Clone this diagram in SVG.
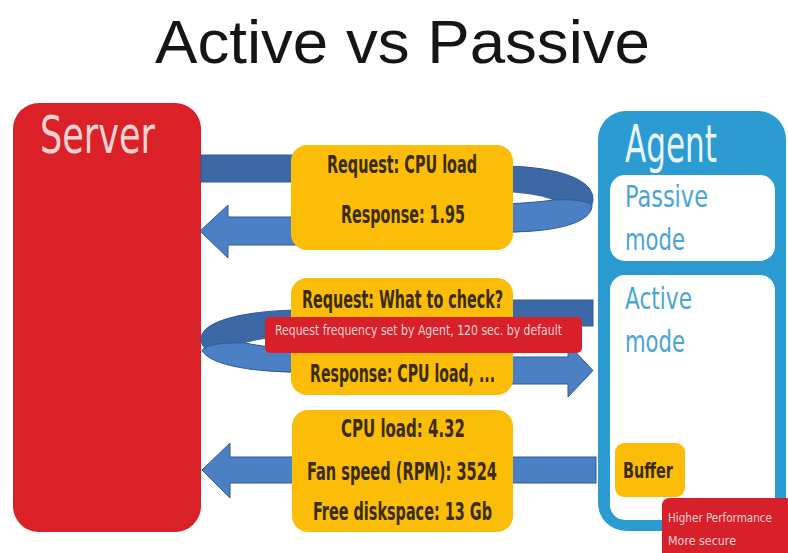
<svg xmlns="http://www.w3.org/2000/svg" width="788" height="553" viewBox="0 0 788 553">
  <style>
    .narrow { font-family: "Liberation Sans Narrow", "DejaVu Sans Condensed", "Liberation Sans", sans-serif; }
    .lbl { font-size: 24px; fill: #3a2c08; font-weight: bold; }
    .box { fill: #fbbd08; }
    .back { fill: #3d68a6; stroke: #2f5a94; stroke-width: 1; }
    .front { fill: #4b80c4; stroke: #2f5a94; stroke-width: 1; }
    .mode { font-size: 31px; fill: #4ba4d6; }
    .note { fill: #d7202a; }
    .noteText { fill: #f6d4d4; }
  </style>

  <rect width="788" height="553" fill="#ffffff"/>

  <!-- title -->
  <text x="155" y="63" font-family="Liberation Sans, Arial, sans-serif" font-size="62" fill="#151515" textLength="495" lengthAdjust="spacingAndGlyphs">Active vs Passive</text>

  <!-- server -->
  <g id="server">
    <rect x="13" y="103" width="188" height="429" rx="26" fill="#d92127"/>
    <text class="narrow" x="40" y="153" font-size="52" fill="#f4d2d2" textLength="115" lengthAdjust="spacingAndGlyphs">Server</text>
  </g>

  <!-- agent -->
  <g id="agent">
    <rect x="598" y="111" width="188" height="420" rx="28" fill="#2b9bd1"/>
    <text class="narrow" x="625" y="162" font-size="52" fill="#eaf5fb" textLength="92" lengthAdjust="spacingAndGlyphs">Agent</text>
    <g id="passive-mode">
      <rect x="610" y="175" width="165" height="86" rx="15" fill="#ffffff"/>
      <text class="narrow mode" x="625" y="207" textLength="83" lengthAdjust="spacingAndGlyphs">Passive</text>
      <text class="narrow mode" x="625" y="250" textLength="60" lengthAdjust="spacingAndGlyphs">mode</text>
    </g>
    <g id="active-mode">
      <rect x="610" y="275" width="165" height="245" rx="15" fill="#ffffff"/>
      <text class="narrow mode" x="625" y="309" textLength="67" lengthAdjust="spacingAndGlyphs">Active</text>
      <text class="narrow mode" x="625" y="352" textLength="60" lengthAdjust="spacingAndGlyphs">mode</text>
    </g>
  </g>

  <!-- connectors -->
  <g id="connectors">
    <!-- passive: request loop -->
    <rect class="back" x="201" y="155" width="100" height="27"/>
    <path class="back" d="M505,166 C560,167 593,180 593,199 C593,218 560,232 505,232 Z"/>
    <path d="M505,192 C528,193 543,196 553,200 C540,202 525,203 505,204 Z" fill="#ffffff"/>
    <path class="front" d="M505,204 C525,203 540,202 553,200 C575,199 590,201 592,206 C591,222 560,232 505,232 Z"/>
    <polygon class="front" points="300,217 228,217 228,205 200,231 228,258 228,245 300,245"/>

    <!-- active: request loop -->
    <rect class="back" x="505" y="300" width="88" height="26"/>
    <path class="back" d="M298,310 C240,311 201,322 201,339 C201,356 240,372 298,372 Z"/>
    <path d="M298,336 C272,337 256,340 245,343 C260,346 276,348 298,349 Z" fill="#ffffff"/>
    <path class="front" d="M298,349 C276,348 260,346 245,343 C224,342 206,345 202,350 C207,363 245,372 298,372 Z"/>
    <polygon class="front" points="505,357 568,357 568,344 593,370.5 568,397 568,384 505,384"/>

    <!-- active: buffered data -->
    <rect class="front" x="505" y="457" width="91" height="26"/>
    <polygon class="front" points="300,457 230,457 230,443 202,470 230,498 230,483 300,483"/>
  </g>

  <!-- message boxes -->
  <g id="passive-messages">
    <rect class="box" x="291" y="145" width="222" height="105" rx="16"/>
    <text class="narrow lbl" x="327" y="173" textLength="150" lengthAdjust="spacingAndGlyphs">Request: CPU load</text>
    <text class="narrow lbl" x="341" y="223" textLength="124" lengthAdjust="spacingAndGlyphs">Response: 1.95</text>
  </g>

  <g id="active-messages">
    <rect class="box" x="291" y="278" width="222" height="117" rx="16"/>
    <text class="narrow lbl" x="302" y="308" textLength="201" lengthAdjust="spacingAndGlyphs">Request: What to check?</text>
    <text class="narrow lbl" x="310" y="382" textLength="185" lengthAdjust="spacingAndGlyphs">Response: CPU load, ...</text>
  </g>

  <g id="frequency-note">
    <rect class="note" x="265" y="317" width="317" height="36" rx="5"/>
    <text class="narrow noteText" x="275" y="335" font-size="14" textLength="287" lengthAdjust="spacingAndGlyphs">Request frequency set by Agent, 120 sec. by default</text>
  </g>

  <g id="active-data">
    <rect class="box" x="292" y="410" width="221" height="122" rx="16"/>
    <text class="narrow lbl" x="341" y="437" textLength="124" lengthAdjust="spacingAndGlyphs">CPU load: 4.32</text>
    <text class="narrow lbl" x="307" y="480" textLength="190" lengthAdjust="spacingAndGlyphs">Fan speed (RPM): 3524</text>
    <text class="narrow lbl" x="313" y="520" textLength="179" lengthAdjust="spacingAndGlyphs">Free diskspace: 13 Gb</text>
  </g>

  <g id="buffer">
    <rect class="box" x="615" y="443" width="70" height="54" rx="9"/>
    <text class="narrow" x="623" y="478" font-size="22" font-weight="bold" fill="#3a2c08" textLength="50" lengthAdjust="spacingAndGlyphs">Buffer</text>
  </g>

  <g id="benefits-note">
    <path class="note" d="M670,498 H788 V553 H662 V506 Q662,498 670,498 Z"/>
    <text class="narrow noteText" x="668" y="522" font-size="13" textLength="104" lengthAdjust="spacingAndGlyphs">Higher Performance</text>
    <text class="narrow noteText" x="668" y="545" font-size="13" textLength="68" lengthAdjust="spacingAndGlyphs">More secure</text>
  </g>
</svg>
